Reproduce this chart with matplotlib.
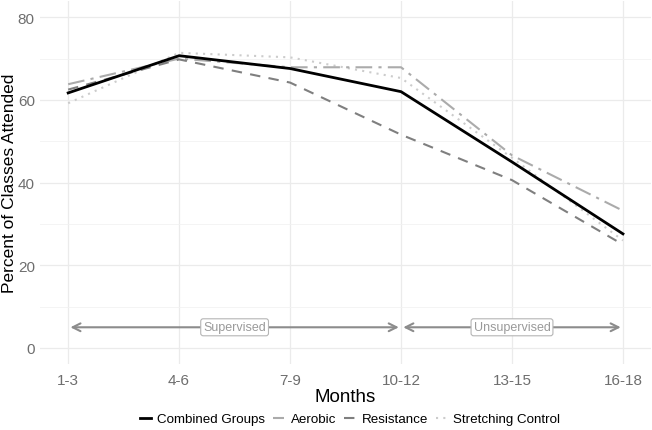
import matplotlib
matplotlib.use("Agg")
import matplotlib.pyplot as plt
from matplotlib.ticker import MultipleLocator

plt.rcParams['font.family'] = ['Liberation Sans', 'DejaVu Sans']

months = ["1-3", "4-6", "7-9", "10-12", "13-15", "16-18"]
combined = [61.7, 70.7, 67.6, 62.0, 45.0, 27.6]
aerobic = [63.8, 70.0, 67.9, 67.9, 46.6, 33.2]
resistance = [62.5, 69.8, 64.2, 51.6, 40.6, 25.0]
stretching = [59.2, 71.4, 70.3, 65.3, 46.0, 26.0]

supervised_span = (1, 4)
unsupervised_span = (4, 6)
arrow_y = 5

fig = plt.figure(figsize=(6.52, 4.31), dpi=100)
ax = fig.add_axes([0.062, 0.152, 0.936, 0.844])

x = list(range(1, len(months) + 1))
ax.plot(x, stretching, color="#cccccc", lw=1.5, ls=(0, (1, 2.5)), label="Stretching Control", zorder=3)
ax.plot(x, aerobic, color="#ababab", lw=1.5, ls=(0, (8, 3, 1.5, 3)), label="Aerobic", zorder=3)
ax.plot(x, resistance, color="#7f7f7f", lw=1.5, ls=(0, (5, 4)), label="Resistance", zorder=3)
ax.plot(x, combined, color="black", lw=2.0, ls="-", label="Combined Groups", zorder=4)

for (a, b), txt in [(supervised_span, "Supervised"), (unsupervised_span, "Unsupervised")]:
    ax.annotate("", xy=(a + 0.02, arrow_y), xytext=(b - 0.02, arrow_y),
                arrowprops=dict(arrowstyle="<->", color="#8c8c8c", lw=1.5,
                                shrinkA=0, shrinkB=0, mutation_scale=14), zorder=2)
    ax.text((a + b) / 2, arrow_y, txt, ha="center", va="center", fontsize=9,
            color="#9a9a9a", zorder=5,
            bbox=dict(boxstyle="round,pad=0.2,rounding_size=0.2", fc="white", ec="#b5b5b5", lw=0.8))

ax.set_xlim(0.75, 6.25)
ax.set_ylim(-4, 84)
ax.set_xticks(x)
ax.set_xticklabels(months)
ax.yaxis.set_major_locator(MultipleLocator(20))
ax.yaxis.set_minor_locator(MultipleLocator(10))
ax.grid(True, which="major", color="#ebebeb", lw=0.9)
ax.grid(True, which="minor", axis="y", color="#f2f2f2", lw=0.6)
ax.set_axisbelow(True)
for s in ax.spines.values():
    s.set_visible(False)
ax.tick_params(axis="both", which="both", length=0, labelsize=11, labelcolor="#6e6e6e", pad=4)
ax.tick_params(axis="x", pad=6)
ax.set_xlabel("Months", fontsize=13.5, labelpad=1)
fig.text(9.5 / 652, 1 - 183 / 431, "Percent of Classes Attended", rotation=90,
         ha="center", va="center", fontsize=12.5)

handles, labels = ax.get_legend_handles_labels()
order = [3, 1, 2, 0]
fig.legend([handles[i] for i in order], [labels[i] for i in order],
           loc="center", bbox_to_anchor=(0.537, 0.025), ncol=4, frameon=False,
           fontsize=9.6, handlelength=0.8, handletextpad=0.5, columnspacing=0.6)

fig.savefig("out.png", dpi=100)
